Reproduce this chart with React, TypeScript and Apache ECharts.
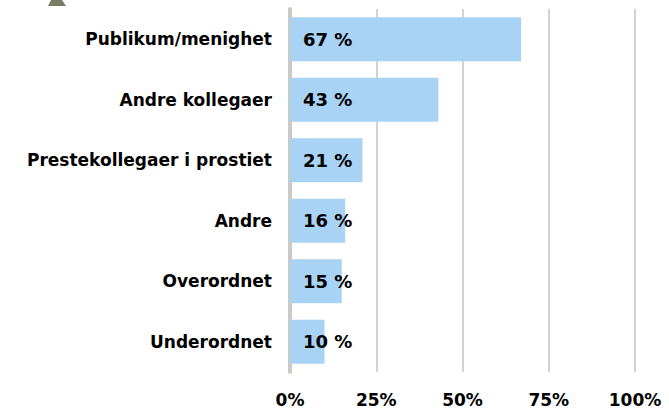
import React, { useEffect, useRef } from "react";
import * as echarts from "echarts";

const categories = [
  "Publikum/menighet",
  "Andre kollegaer",
  "Prestekollegaer i prostiet",
  "Andre",
  "Overordnet",
  "Underordnet",
];
const values = [67, 43, 21, 16, 15, 10];
const xTicks = [0, 25, 50, 75, 100];

export default function App() {
  const ref = useRef<HTMLDivElement>(null);
  useEffect(() => {
    if (!ref.current) return;
    const chart = echarts.init(ref.current, null, { renderer: "svg" });
    const font = "DejaVu Sans";
    chart.setOption({
      animation: false,
      backgroundColor: "#ffffff",
      grid: { left: 290, right: 34, top: 9, bottom: 36, containLabel: false },
      xAxis: {
        type: "value",
        min: 0,
        max: 100,
        interval: 25,
        axisLine: { show: false },
        axisTick: { show: false },
        splitLine: { show: true, lineStyle: { color: "#c4c4bc", width: 1.5 } },
        axisLabel: {
          formatter: (v: number) => (xTicks.includes(v) ? v + "%" : ""),
          color: "#000",
          fontFamily: font,
          fontWeight: "bold",
          fontSize: 17,
          margin: 19,
        },
      },
      yAxis: {
        type: "category",
        data: categories,
        inverse: true,
        axisLine: { show: true, lineStyle: { color: "#cbcbc3", width: 4 } },
        axisTick: { show: false },
        axisLabel: {
          color: "#000",
          fontFamily: font,
          fontWeight: "bold",
          fontSize: 17,
          margin: 18,
        },
      },
      series: [
        {
          type: "bar",
          data: values,
          barWidth: "73%",
          itemStyle: { color: "#a9d3f5" },
          label: {
            show: true,
            position: "insideLeft",
            distance: 13,
            formatter: "{c} %",
            color: "#000",
            fontFamily: font,
            fontWeight: "bold",
            fontSize: 18,
          },
        },
      ],
      graphic: [
        {
          type: "polygon",
          shape: { points: [[51, 0], [62, 0], [66, 6], [48, 6]] },
          style: { fill: "#7b7b68" },
        },
      ],
    });
    return () => chart.dispose();
  }, []);
  return <div ref={ref} style={{ width: 669, height: 408, position: "absolute", left: 0, top: 0 }} />;
}
